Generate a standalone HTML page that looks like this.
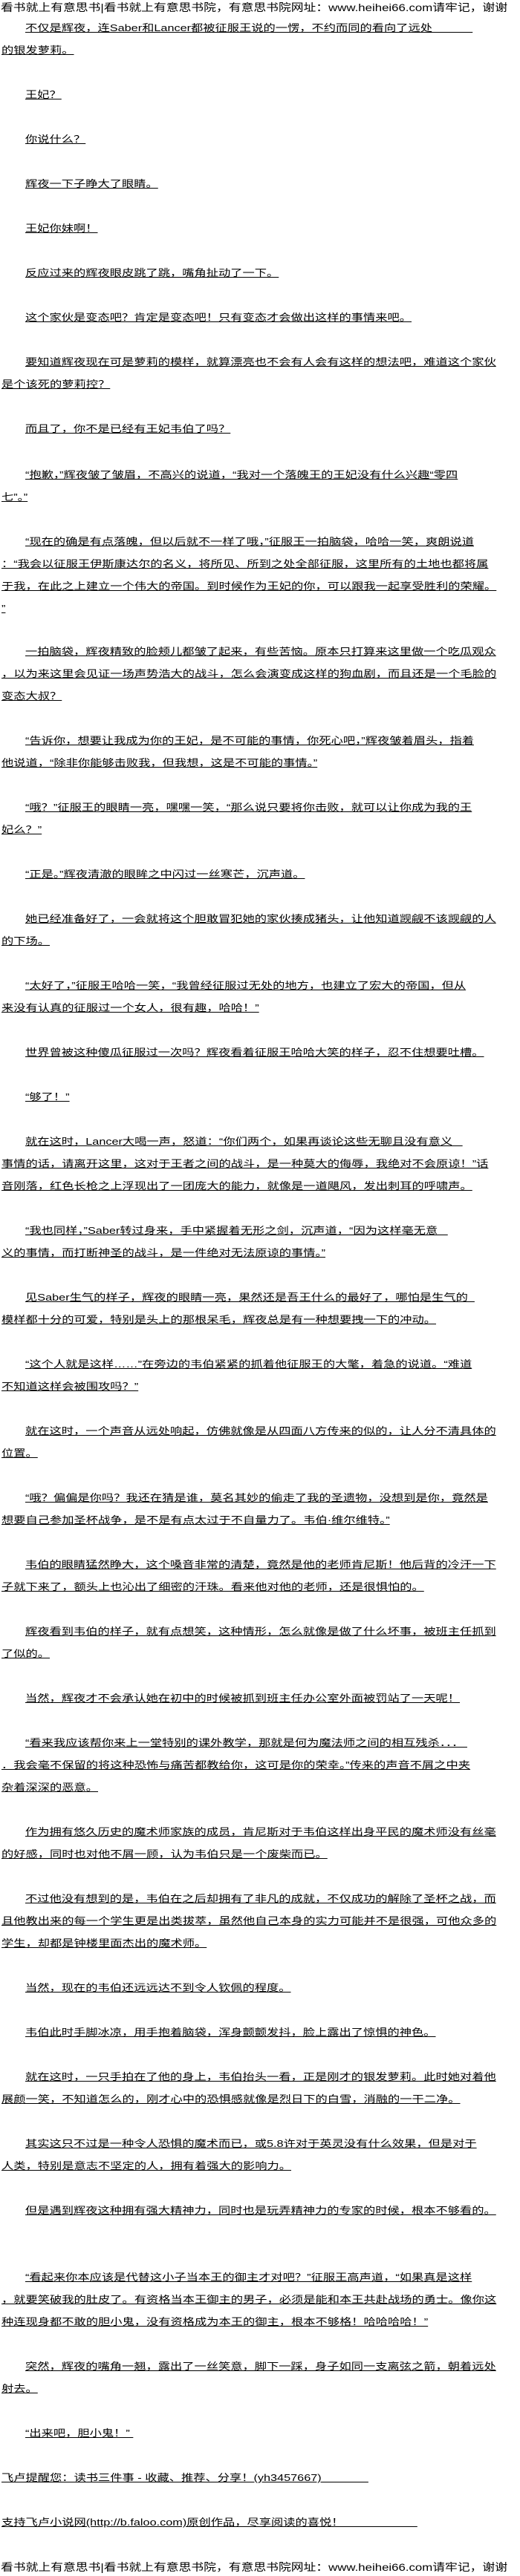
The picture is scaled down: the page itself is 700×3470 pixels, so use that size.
<!DOCTYPE html>
<html><head><meta charset="utf-8">
<style>
html,body{margin:0;padding:0;background:#fff;}
body{width:700px;height:3470px;position:relative;overflow:hidden;font-family:"Liberation Sans","Noto Sans CJK SC","WenQuanYi Zen Hei",sans-serif;color:#000;}
.l{position:absolute;font-size:13px;line-height:16px;height:16px;white-space:nowrap;text-decoration:underline;left:2px;transform:scaleX(1.25);transform-origin:0 0;}
.i{left:34px;}
.h{position:absolute;left:1px;font-size:14px;line-height:18px;white-space:nowrap;transform:scaleX(1.2);transform-origin:0 0;}
</style></head><body>
<div class="h" style="top:1px">看书就上有意思书|看书就上有意思书院，有意思书院网址：www.heihei66.com请牢记，谢谢</div>
<div class="l i" style="top:30px">不仅是辉夜，连Saber和Lancer都被征服王说的一愣，不约而同的看向了远处&nbsp;&nbsp;&nbsp;&nbsp;&nbsp;&nbsp;&nbsp;&nbsp;&nbsp;&nbsp;&nbsp;&nbsp;</div>
<div class="l" style="top:60px">的银发萝莉。</div>
<div class="l i" style="top:120px">王妃？</div>
<div class="l i" style="top:180px">你说什么？</div>
<div class="l i" style="top:240px">辉夜一下子睁大了眼睛。</div>
<div class="l i" style="top:300px">王妃你妹啊！</div>
<div class="l i" style="top:360px">反应过来的辉夜眼皮跳了跳，嘴角扯动了一下。</div>
<div class="l i" style="top:420px">这个家伙是变态吧？肯定是变态吧！只有变态才会做出这样的事情来吧。</div>
<div class="l i" style="top:480px">要知道辉夜现在可是萝莉的模样，就算漂亮也不会有人会有这样的想法吧，难道这个家伙</div>
<div class="l" style="top:510px">是个该死的萝莉控？</div>
<div class="l i" style="top:570px">而且了，你不是已经有王妃韦伯了吗？</div>
<div class="l i" style="top:632px">“抱歉，”辉夜皱了皱眉，不高兴的说道，“我对一个落魄王的王妃没有什么兴趣“零四</div>
<div class="l" style="top:662px">七”。”</div>
<div class="l i" style="top:722px">“现在的确是有点落魄，但以后就不一样了哦，”征服王一拍脑袋，哈哈一笑，爽朗说道</div>
<div class="l" style="top:752px">：“我会以征服王伊斯康达尔的名义，将所见、所到之处全部征服，这里所有的土地也都将属</div>
<div class="l" style="top:782px">于我，在此之上建立一个伟大的帝国。到时候作为王妃的你，可以跟我一起享受胜利的荣耀。</div>
<div class="l" style="top:812px">”</div>
<div class="l i" style="top:870px">一拍脑袋，辉夜精致的脸颊儿都皱了起来，有些苦恼。原本只打算来这里做一个吃瓜观众</div>
<div class="l" style="top:900px">，以为来这里会见证一场声势浩大的战斗，怎么会演变成这样的狗血剧，而且还是一个毛脸的</div>
<div class="l" style="top:930px">变态大叔？</div>
<div class="l i" style="top:990px">“告诉你，想要让我成为你的王妃，是不可能的事情，你死心吧，”辉夜皱着眉头，指着</div>
<div class="l" style="top:1020px">他说道，“除非你能够击败我，但我想，这是不可能的事情。”</div>
<div class="l i" style="top:1080px">“哦？”征服王的眼睛一亮，嘿嘿一笑，“那么说只要将你击败，就可以让你成为我的王</div>
<div class="l" style="top:1110px">妃么？”</div>
<div class="l i" style="top:1170px">“正是。”辉夜清澈的眼眸之中闪过一丝寒芒，沉声道。</div>
<div class="l i" style="top:1230px">她已经准备好了，一会就将这个胆敢冒犯她的家伙揍成猪头，让他知道觊觎不该觊觎的人</div>
<div class="l" style="top:1260px">的下场。</div>
<div class="l i" style="top:1320px">“太好了，”征服王哈哈一笑，“我曾经征服过无处的地方，也建立了宏大的帝国，但从</div>
<div class="l" style="top:1350px">来没有认真的征服过一个女人，很有趣，哈哈！”</div>
<div class="l i" style="top:1410px">世界曾被这种傻瓜征服过一次吗？辉夜看着征服王哈哈大笑的样子，忍不住想要吐槽。</div>
<div class="l i" style="top:1470px">“够了！”</div>
<div class="l i" style="top:1530px">就在这时，Lancer大喝一声，怒道：“你们两个，如果再谈论这些无聊且没有意义&nbsp;&nbsp;&nbsp;</div>
<div class="l" style="top:1560px">事情的话，请离开这里，这对于王者之间的战斗，是一种莫大的侮辱，我绝对不会原谅！”话</div>
<div class="l" style="top:1590px">音刚落，红色长枪之上浮现出了一团庞大的能力，就像是一道飓风，发出刺耳的呼啸声。</div>
<div class="l i" style="top:1650px">“我也同样，”Saber转过身来，手中紧握着无形之剑，沉声道，“因为这样毫无意&nbsp;&nbsp;&nbsp;</div>
<div class="l" style="top:1680px">义的事情，而打断神圣的战斗，是一件绝对无法原谅的事情。”</div>
<div class="l i" style="top:1740px">见Saber生气的样子，辉夜的眼睛一亮，果然还是吾王什么的最好了，哪怕是生气的&nbsp;&nbsp;</div>
<div class="l" style="top:1770px">模样都十分的可爱，特别是头上的那根呆毛，辉夜总是有一种想要拽一下的冲动。</div>
<div class="l i" style="top:1830px">“这个人就是这样……”在旁边的韦伯紧紧的抓着他征服王的大氅，着急的说道。“难道</div>
<div class="l" style="top:1860px">不知道这样会被围攻吗？”</div>
<div class="l i" style="top:1920px">就在这时，一个声音从远处响起，仿佛就像是从四面八方传来的似的，让人分不清具体的</div>
<div class="l" style="top:1950px">位置。</div>
<div class="l i" style="top:2010px">“哦？偏偏是你吗？我还在猜是谁，莫名其妙的偷走了我的圣遗物，没想到是你，竟然是</div>
<div class="l" style="top:2040px">想要自己参加圣杯战争，是不是有点太过于不自量力了。韦伯·维尔维特。”</div>
<div class="l i" style="top:2100px">韦伯的眼睛猛然睁大，这个嗓音非常的清楚，竟然是他的老师肯尼斯！他后背的冷汗一下</div>
<div class="l" style="top:2130px">子就下来了，额头上也沁出了细密的汗珠。看来他对他的老师，还是很惧怕的。</div>
<div class="l i" style="top:2190px">辉夜看到韦伯的样子，就有点想笑，这种情形，怎么就像是做了什么坏事，被班主任抓到</div>
<div class="l" style="top:2220px">了似的。</div>
<div class="l i" style="top:2280px">当然，辉夜才不会承认她在初中的时候被抓到班主任办公室外面被罚站了一天呢！</div>
<div class="l i" style="top:2340px">“看来我应该帮你来上一堂特别的课外教学，那就是何为魔法师之间的相互残杀．．．&nbsp;</div>
<div class="l" style="top:2370px">．我会毫不保留的将这种恐怖与痛苦都教给你，这可是你的荣幸。”传来的声音不屑之中夹</div>
<div class="l" style="top:2400px">杂着深深的恶意。</div>
<div class="l i" style="top:2460px">作为拥有悠久历史的魔术师家族的成员，肯尼斯对于韦伯这样出身平民的魔术师没有丝毫</div>
<div class="l" style="top:2490px">的好感，同时也对他不屑一顾，认为韦伯只是一个废柴而已。</div>
<div class="l i" style="top:2550px">不过他没有想到的是，韦伯在之后却拥有了非凡的成就，不仅成功的解除了圣杯之战，而</div>
<div class="l" style="top:2580px">且他教出来的每一个学生更是出类拔萃，虽然他自己本身的实力可能并不是很强，可他众多的</div>
<div class="l" style="top:2610px">学生，却都是钟楼里面杰出的魔术师。</div>
<div class="l i" style="top:2670px">当然，现在的韦伯还远远达不到令人钦佩的程度。</div>
<div class="l i" style="top:2730px">韦伯此时手脚冰凉，用手抱着脑袋，浑身颤颤发抖，脸上露出了惊惧的神色。</div>
<div class="l i" style="top:2790px">就在这时，一只手拍在了他的身上，韦伯抬头一看，正是刚才的银发萝莉。此时她对着他</div>
<div class="l" style="top:2820px">展颜一笑，不知道怎么的，刚才心中的恐惧感就像是烈日下的白雪，消融的一干二净。</div>
<div class="l i" style="top:2880px">其实这只不过是一种令人恐惧的魔术而已，或5.8许对于英灵没有什么效果，但是对于</div>
<div class="l" style="top:2910px">人类，特别是意志不坚定的人，拥有着强大的影响力。</div>
<div class="l i" style="top:2970px">但是遇到辉夜这种拥有强大精神力，同时也是玩弄精神力的专家的时候，根本不够看的。</div>
<div class="l i" style="top:3060px">“看起来你本应该是代替这小子当本王的御主才对吧？”征服王高声道，“如果真是这样</div>
<div class="l" style="top:3090px">，就要笑破我的肚皮了。有资格当本王御主的男子，必须是能和本王共赴战场的勇士。像你这</div>
<div class="l" style="top:3120px">种连现身都不敢的胆小鬼，没有资格成为本王的御主，根本不够格！哈哈哈哈！”</div>
<div class="l i" style="top:3180px">突然，辉夜的嘴角一翘，露出了一丝笑意，脚下一踩，身子如同一支离弦之箭，朝着远处</div>
<div class="l" style="top:3210px">射去。</div>
<div class="l i" style="top:3270px">“出来吧，胆小鬼！”&nbsp;</div>
<div class="l" style="top:3330px">飞卢提醒您：读书三件事 - 收藏、推荐、分享！(yh3457667)&nbsp;&nbsp;&nbsp;&nbsp;&nbsp;&nbsp;&nbsp;&nbsp;&nbsp;&nbsp;&nbsp;&nbsp;&nbsp;&nbsp;</div>
<div class="l" style="top:3390px">支持飞卢小说网(http://b.faloo.com)原创作品，尽享阅读的喜悦！&nbsp;&nbsp;&nbsp;&nbsp;&nbsp;&nbsp;&nbsp;&nbsp;&nbsp;&nbsp;&nbsp;&nbsp;&nbsp;&nbsp;&nbsp;&nbsp;&nbsp;&nbsp;&nbsp;&nbsp;&nbsp;&nbsp;</div>
<div class="h" style="top:3449px">看书就上有意思书|看书就上有意思书院，有意思书院网址：www.heihei66.com请牢记，谢谢</div>
</body></html>
